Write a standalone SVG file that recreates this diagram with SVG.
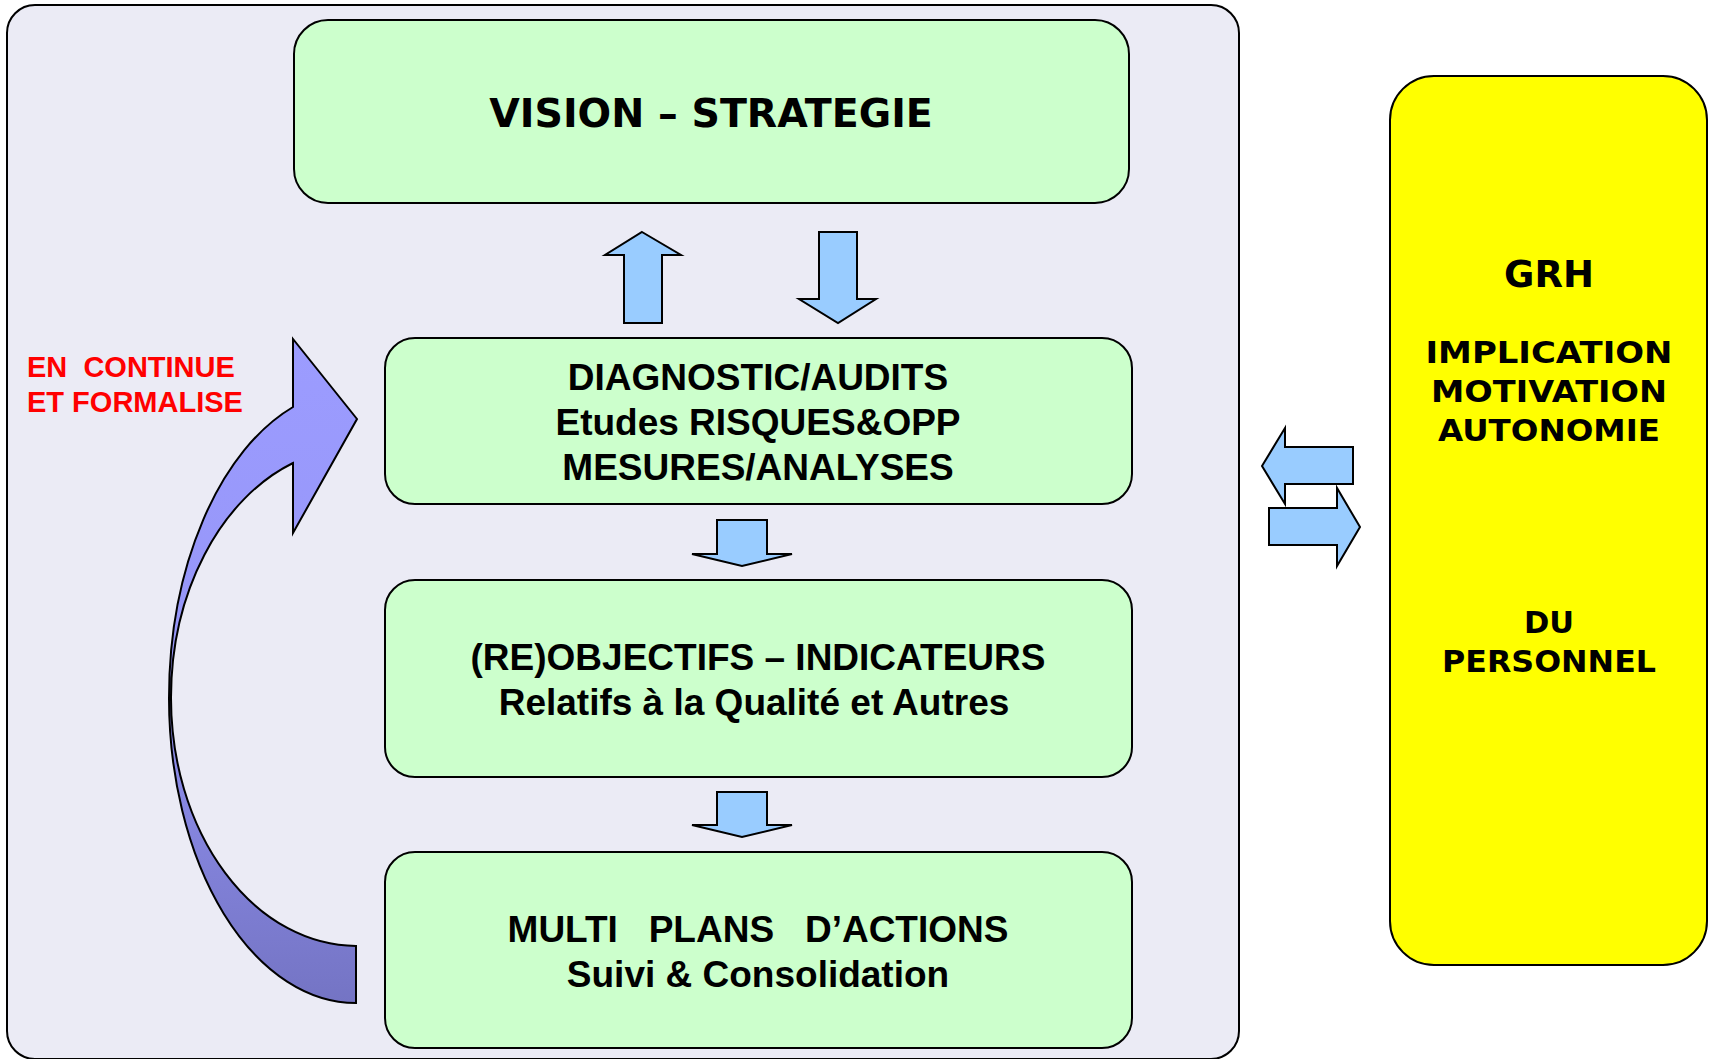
<svg xmlns="http://www.w3.org/2000/svg" width="1710" height="1059" viewBox="0 0 1710 1059">
  <defs>
    <style>
      .panel { fill: #ebebf5; stroke: #000; stroke-width: 2; }
      .box { fill: #ccffcc; stroke: #000; stroke-width: 2; }
      .grh { fill: #ffff00; stroke: #000; stroke-width: 2; }
      .blk { fill: #99ccff; stroke: #000; stroke-width: 2; stroke-linejoin: miter; }
      .t { font-family: "Liberation Sans", Arial, sans-serif; font-weight: bold; font-size: 37px; fill: #000; text-anchor: middle; }
      .v { font-family: "DejaVu Sans", Verdana, sans-serif; font-weight: bold; fill: #000; text-anchor: middle; }
      .red { font-family: "Liberation Sans", Arial, sans-serif; font-weight: bold; font-size: 29px; fill: #ff0000; }
    </style>
    <linearGradient id="loopFill" x1="0" y1="0" x2="0" y2="1">
      <stop offset="0" stop-color="#9c9cff"/>
      <stop offset="0.45" stop-color="#9696f8"/>
      <stop offset="1" stop-color="#7474c4"/>
    </linearGradient>
  </defs>

  <!-- background panel for the quality loop -->
  <rect id="panel" class="panel" x="7" y="5" width="1232" height="1054" rx="28" ry="28"/>

  <g id="vision">
    <rect class="box" x="294" y="20" width="835" height="183" rx="34" ry="34"/>
    <text class="v" x="711" y="127" font-size="39.5">VISION – STRATEGIE</text>
  </g>

  <g id="diagnostic">
    <rect class="box" x="385" y="338" width="747" height="166" rx="30" ry="30"/>
    <text class="t" x="758" y="389.5">DIAGNOSTIC/AUDITS</text>
    <text class="t" x="758" y="434.5">Etudes RISQUES&amp;OPP</text>
    <text class="t" x="758" y="479.5">MESURES/ANALYSES</text>
  </g>

  <g id="objectifs">
    <rect class="box" x="385" y="580" width="747" height="197" rx="30" ry="30"/>
    <text class="t" x="758" y="670">(RE)OBJECTIFS – INDICATEURS</text>
    <text class="t" x="754" y="715">Relatifs à la Qualité et Autres</text>
  </g>

  <g id="plans">
    <rect class="box" x="385" y="852" width="747" height="196" rx="30" ry="30"/>
    <text class="t" x="758" y="942" xml:space="preserve">MULTI   PLANS   D’ACTIONS</text>
    <text class="t" x="758" y="987">Suivi &amp; Consolidation</text>
  </g>

  <g id="grh">
    <rect class="grh" x="1390" y="76" width="317" height="889" rx="44" ry="44"/>
    <text class="v" x="1549" y="287" font-size="37">GRH</text>
    <text class="v" x="1549" y="363" font-size="30.5" textLength="247" lengthAdjust="spacingAndGlyphs">IMPLICATION</text>
    <text class="v" x="1549" y="402" font-size="30.5" textLength="236" lengthAdjust="spacingAndGlyphs">MOTIVATION</text>
    <text class="v" x="1549" y="441" font-size="30.5" textLength="222" lengthAdjust="spacingAndGlyphs">AUTONOMIE</text>
    <text class="v" x="1549" y="633" font-size="30.5">DU</text>
    <text class="v" x="1549" y="672" font-size="30.5" textLength="214" lengthAdjust="spacingAndGlyphs">PERSONNEL</text>
  </g>

  <g id="loop-label">
    <text class="red" x="27" y="377" xml:space="preserve">EN  CONTINUE</text>
    <text class="red" x="27" y="412">ET FORMALISE</text>
  </g>

  <g id="connectors">
    <!-- vision <-> diagnostic -->
    <polygon class="blk" points="642,232 681,255 662,255 662,323 624,323 624,255 605,255"/>
    <polygon class="blk" points="819,232 857,232 857,299 876,299 838,323 799,299 819,299"/>
    <!-- diagnostic -> objectifs -->
    <polygon class="blk" points="717,520 767,520 767,554 792,554 742,566 692,554 717,554"/>
    <!-- objectifs -> plans -->
    <polygon class="blk" points="717,792 767,792 767,825 792,825 742,837 692,825 717,825"/>
    <!-- exchange with GRH -->
    <polygon class="blk" points="1262,466 1285,428 1285,447 1353,447 1353,484 1285,484 1285,504"/>
    <polygon class="blk" points="1360,527 1337,488 1337,508 1269,508 1269,545 1337,545 1337,566"/>
    <!-- curved return arrow from plans back to diagnostic -->
    <path fill="url(#loopFill)" stroke="#000" stroke-width="2" stroke-linejoin="miter"
          d="M 356 1003 A 187 305 0 0 1 169 698 A 187 309 0 0 1 293 407 L 293 339 L 357 419 L 293 533 L 293 463 A 186 250 0 0 0 171 698 A 186 248 0 0 0 356 946 Z"/>
  </g>
</svg>
